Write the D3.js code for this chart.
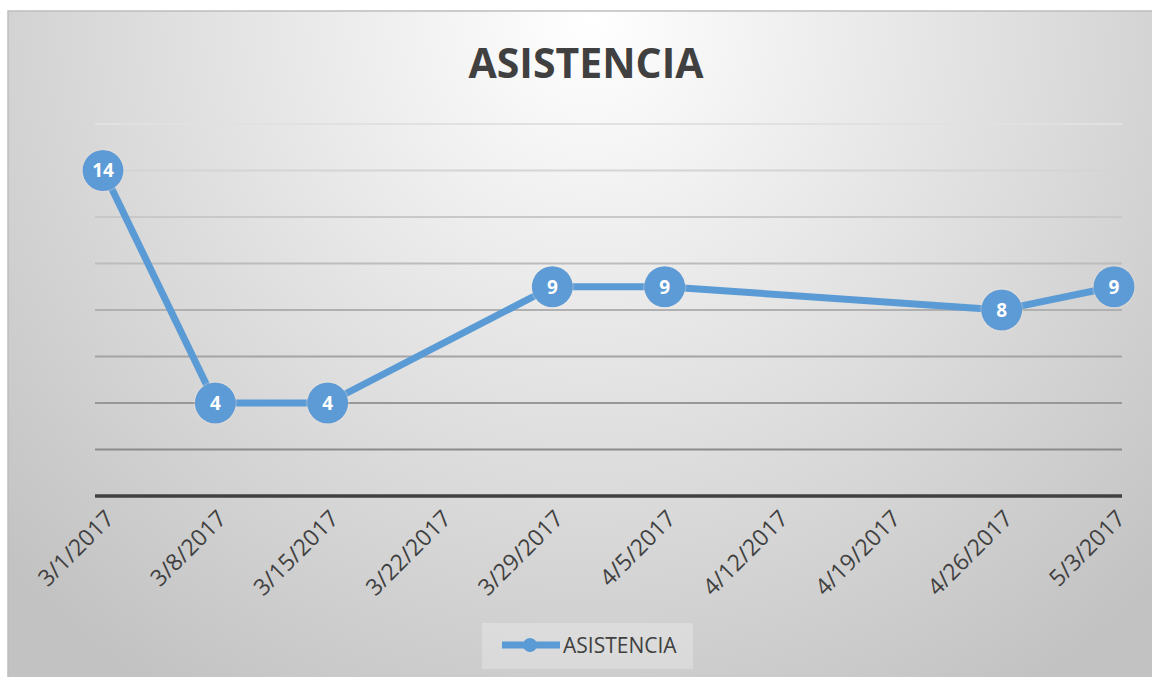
<!DOCTYPE html>
<html lang="es">
<head>
  <meta charset="UTF-8">
  <title>ASISTENCIA</title>
<style>
    html, body {
      margin: 0;
      padding: 0;
      background: #fff;
    }

    #chart {
      display: block;
      font-family: "Open Sans", sans-serif;
    }
  </style>
</head>
<body>
  <svg id="chart" width="1152" height="677"></svg>
<script src="https://cdnjs.cloudflare.com/ajax/libs/d3/7.8.5/d3.min.js"></script>
<script>
    // Data
    const dates = ['2017-03-01', '2017-03-08', '2017-03-15', '2017-03-29', '2017-04-05', '2017-04-26', '2017-05-03'];
    const asistencia = [14, 4, 4, 9, 9, 8, 9];
    const tickDates = ['2017-03-01', '2017-03-08', '2017-03-15', '2017-03-22', '2017-03-29',
                       '2017-04-05', '2017-04-12', '2017-04-19', '2017-04-26', '2017-05-03'];
    const yTicks = [2, 4, 6, 8, 10, 12, 14, 16];
    const title = 'ASISTENCIA';
    const seriesName = 'ASISTENCIA';

    const parseDate = d3.timeParse('%Y-%m-%d');
    const points = dates.map((d, i) => ({ date: parseDate(d), value: asistencia[i] }));

    const blue = '#5b9bd5';
    const textColor = '#404040';

    const svg = d3.select('#chart');
    const defs = svg.append('defs');

    // Background gradient
    const bg = defs.append('radialGradient')
      .attr('id', 'bg')
      .attr('gradientUnits', 'userSpaceOnUse')
      .attr('cx', 590).attr('cy', 20).attr('r', 800);
    bg.append('stop').attr('offset', '0%').attr('stop-color', '#ffffff');
    bg.append('stop').attr('offset', '100%').attr('stop-color', '#c2c2c2');

    // Gridline gradient, faint at top, darker at bottom
    const gg = defs.append('linearGradient')
      .attr('id', 'grid')
      .attr('gradientUnits', 'userSpaceOnUse')
      .attr('x1', 0).attr('x2', 0).attr('y1', 120).attr('y2', 455);
    gg.append('stop').attr('offset', '0%').attr('stop-color', '#e2e2e2');
    gg.append('stop').attr('offset', '100%').attr('stop-color', '#8a8a8a');

    const glow = defs.append('filter').attr('id', 'glow')
      .attr('x', '-30%').attr('y', '-30%').attr('width', '160%').attr('height', '160%');
    glow.append('feDropShadow')
      .attr('dx', 0).attr('dy', 0).attr('stdDeviation', 1.2)
      .attr('flood-color', '#f3ece0').attr('flood-opacity', 0.7);

    svg.append('rect')
      .attr('x', 8).attr('y', 11)
      .attr('width', 1152).attr('height', 677)
      .attr('fill', 'url(#bg)')
      .attr('stroke', '#bdbdbd')
      .attr('stroke-width', 1.5);

    // Scales
    const x = d3.scaleTime()
      .domain([parseDate(tickDates[0]), parseDate(tickDates[tickDates.length - 1])])
      .range([103, 1114]);

    const y = d3.scaleLinear()
      .domain([0, 16])
      .range([496, 124]);

    // Title
    svg.append('text')
      .attr('x', 586).attr('y', 78)
      .attr('text-anchor', 'middle')
      .attr('font-size', 41)
      .attr('font-weight', 700)
      .attr('fill', textColor)
      .text(title);

    // Gridlines
    svg.append('g')
      .selectAll('line')
      .data(yTicks)
      .join('line')
      .attr('x1', 95).attr('x2', 1122)
      .attr('y1', d => y(d)).attr('y2', d => y(d))
      .attr('stroke', 'url(#grid)')
      .attr('stroke-width', 2);

    // X axis
    const xAxis = d3.axisBottom(x)
      .tickValues(tickDates.map(parseDate))
      .tickFormat(d3.timeFormat('%-m/%-d/%Y'))
      .tickSize(0);

    const gx = svg.append('g')
      .attr('transform', `translate(0,${y(0)})`)
      .call(xAxis);
    gx.select('.domain')
      .attr('d', `M95,0H1122`)
      .attr('stroke', '#404040')
      .attr('stroke-width', 3.5);
    gx.selectAll('text')
      .attr('font-family', '"Open Sans", sans-serif')
      .attr('font-size', 23)
      .attr('fill', textColor)
      .attr('text-anchor', 'end')
      .attr('dy', 0)
      .attr('y', 0)
      .attr('transform', 'translate(12,24) rotate(-45)');

    // Line
    const line = d3.line()
      .x(d => x(d.date))
      .y(d => y(d.value));

    svg.append('path')
      .datum(points)
      .attr('d', line)
      .attr('fill', 'none')
      .attr('stroke', blue)
      .attr('stroke-width', 7)
      .attr('stroke-linejoin', 'round');

    // Markers with labels
    const marks = svg.append('g')
      .selectAll('g')
      .data(points)
      .join('g')
      .attr('transform', d => `translate(${x(d.date)},${y(d.value)})`);

    marks.append('circle')
      .attr('r', 20.5)
      .attr('fill', blue)
      .attr('filter', 'url(#glow)');

    marks.append('text')
      .attr('text-anchor', 'middle')
      .attr('dy', '0.36em')
      .attr('font-size', 19)
      .attr('font-weight', 700)
      .attr('fill', '#fff')
      .text(d => d.value);

    // Legend
    const legend = svg.append('g');
    legend.append('rect')
      .attr('x', 482).attr('y', 623)
      .attr('width', 211).attr('height', 46)
      .attr('fill', '#ffffff')
      .attr('fill-opacity', 0.25);
    legend.append('line')
      .attr('x1', 502).attr('x2', 560)
      .attr('y1', 645).attr('y2', 645)
      .attr('stroke', blue)
      .attr('stroke-width', 7);
    legend.append('circle')
      .attr('cx', 530).attr('cy', 645)
      .attr('r', 7)
      .attr('fill', blue);
    legend.append('text')
      .attr('x', 563).attr('y', 653)
      .attr('font-size', 21)
      .attr('fill', textColor)
      .text(seriesName);
  </script>
</body>
</html>
